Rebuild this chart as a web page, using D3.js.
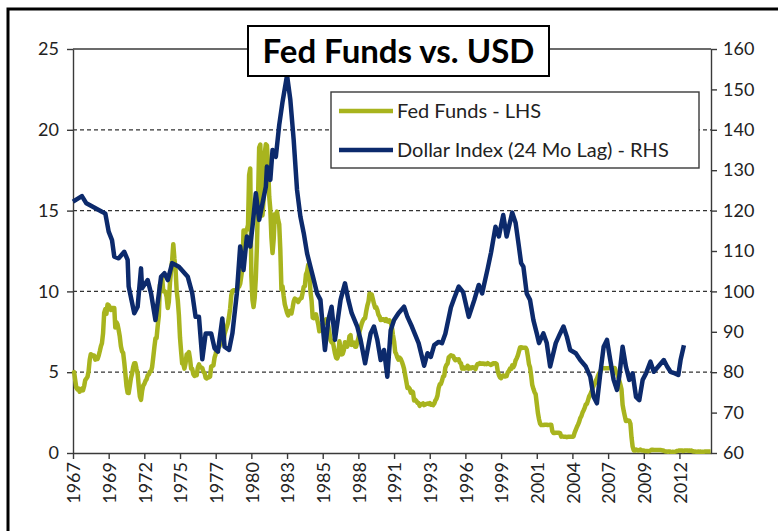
<!DOCTYPE html>
<html>
<head>
<meta charset="utf-8">
<script src="https://cdn.jsdelivr.net/npm/d3@7"></script>
<style>
  body { margin: 0; background: #fff; }
  svg { display: block; }
  text { font-family: Lato, "Open Sans", sans-serif; }
</style>
</head>
<body>
<svg id="chart" width="778" height="531"></svg>
<script>
// effective fed funds, monthly from Jan 1967 (one row per year)
const fedFunds = [
  4.94,5.00,4.53,4.05,3.94,3.98,3.79,3.90,3.99,3.88,4.13,4.51,
  4.60,4.71,5.05,5.76,6.11,6.07,6.03,6.03,5.78,5.91,5.82,6.02,
  6.30,6.61,6.79,7.41,8.67,8.90,8.61,9.19,9.15,9.00,8.85,8.97,
  8.98,8.98,7.76,8.10,7.95,7.61,7.21,6.61,6.29,6.20,5.60,4.90,
  4.14,3.72,3.71,4.16,4.63,4.91,5.31,5.56,5.55,5.20,4.91,4.14,
  3.50,3.29,3.83,4.17,4.27,4.46,4.55,4.80,4.87,5.04,5.06,5.33,
  5.94,6.58,7.09,7.12,7.84,8.49,10.40,10.50,10.78,10.01,10.03,9.95,
  9.65,8.97,9.35,10.51,11.31,11.93,12.92,12.01,11.34,10.06,9.45,8.53,
  7.13,6.24,5.54,5.49,5.22,5.55,6.10,6.14,6.24,5.82,5.22,5.20,
  4.87,4.77,4.84,4.82,5.29,5.48,5.31,5.29,5.25,5.02,4.95,4.65,
  4.61,4.68,4.69,4.73,5.35,5.39,5.42,5.90,6.14,6.47,6.51,6.56,
  6.70,6.78,6.79,6.89,7.36,7.60,7.81,8.04,8.45,8.96,9.76,10.03,
  10.07,10.06,10.09,10.01,10.24,10.29,10.47,10.94,11.43,13.77,13.18,13.78,
  13.82,14.13,17.19,17.61,10.98,9.47,9.03,9.61,10.87,12.81,15.85,18.90,
  19.08,15.93,14.70,15.72,18.52,19.10,19.04,17.82,15.87,15.08,13.31,12.37,
  13.22,14.78,14.68,14.94,14.45,14.15,12.59,10.12,10.31,9.71,9.20,8.95,
  8.68,8.51,8.77,8.80,8.63,8.98,9.37,9.56,9.45,9.48,9.34,9.47,
  9.56,9.59,9.91,10.29,10.32,11.06,11.23,11.64,11.30,9.99,9.43,8.38,
  8.35,8.50,8.58,8.27,7.97,7.53,7.88,7.90,7.92,7.99,8.05,8.27,
  8.14,7.86,7.48,6.99,6.85,6.92,6.56,6.17,5.89,5.85,6.04,6.91,
  6.43,6.10,6.13,6.37,6.85,6.73,6.58,6.73,7.22,7.29,6.69,6.77,
  6.83,6.58,6.58,6.87,7.09,7.51,7.75,8.01,8.19,8.30,8.35,8.76,
  9.12,9.36,9.85,9.84,9.81,9.53,9.24,8.99,9.02,8.84,8.55,8.45,
  8.23,8.24,8.28,8.26,8.18,8.29,8.15,8.13,8.20,8.11,7.81,7.31,
  6.91,6.25,6.12,5.91,5.78,5.90,5.82,5.66,5.45,5.21,4.81,4.43,
  4.03,4.06,3.98,3.73,3.82,3.76,3.25,3.30,3.22,3.10,3.09,2.92,
  3.02,3.03,3.07,2.96,3.00,3.04,3.06,3.03,3.09,2.99,3.02,2.96,
  3.05,3.25,3.34,3.56,4.01,4.25,4.26,4.47,4.73,4.76,5.29,5.45,
  5.53,5.92,5.98,6.05,6.01,6.00,5.85,5.74,5.80,5.76,5.80,5.60,
  5.56,5.22,5.31,5.22,5.24,5.27,5.40,5.22,5.30,5.24,5.31,5.29,
  5.25,5.19,5.39,5.51,5.50,5.56,5.52,5.54,5.54,5.50,5.52,5.50,
  5.56,5.51,5.49,5.45,5.49,5.56,5.54,5.55,5.51,5.07,4.83,4.68,
  4.63,4.76,4.81,4.74,4.74,4.76,4.99,5.07,5.22,5.20,5.42,5.30,
  5.45,5.73,5.85,6.02,6.27,6.53,6.54,6.50,6.52,6.51,6.51,6.40,
  5.98,5.49,5.31,4.80,4.21,3.97,3.77,3.65,3.07,2.49,2.09,1.82,
  1.73,1.74,1.73,1.75,1.75,1.75,1.73,1.74,1.75,1.75,1.34,1.24,
  1.24,1.26,1.25,1.26,1.26,1.22,1.01,1.03,1.01,1.01,1.00,0.98,
  1.00,1.01,1.00,1.00,1.00,1.03,1.26,1.43,1.61,1.76,1.93,2.16,
  2.28,2.50,2.63,2.79,3.00,3.04,3.26,3.50,3.62,3.78,4.00,4.16,
  4.29,4.49,4.59,4.79,4.94,4.99,5.24,5.25,5.25,5.25,5.25,5.24,
  5.25,5.26,5.26,5.25,5.25,5.25,5.26,5.02,4.94,4.76,4.49,4.24,
  3.94,2.98,2.61,2.28,1.98,2.00,2.01,2.00,1.81,0.97,0.39,0.16,
  0.15,0.22,0.18,0.15,0.18,0.21,0.16,0.16,0.15,0.12,0.12,0.12,
  0.11,0.13,0.16,0.20,0.20,0.18,0.18,0.19,0.19,0.19,0.19,0.18,
  0.17,0.16,0.14,0.10,0.09,0.09,0.07,0.10,0.08,0.07,0.08,0.07,
  0.08,0.10,0.13,0.14,0.16,0.16,0.16,0.13,0.14,0.16,0.16,0.16,
  0.14,0.15,0.14,0.15,0.11,0.09,0.09,0.08,0.08,0.09,0.08,0.09,
  0.07,0.07,0.08,0.09,0.09,0.10,0.09,0.09,0.09
];

// dollar index (24 month lag)
const dollarMonths = [
  "1967-01","1967-09","1968-01","1969-03","1969-06","1969-09","1969-12","1970-02","1970-06","1970-11",
  "1971-02","1971-03","1971-08","1971-11","1972-02","1972-03","1972-08","1972-11","1973-03","1973-08",
  "1973-11","1974-02","1974-06","1974-12","1975-08","1975-12","1976-03","1976-06","1976-09","1976-12",
  "1977-05","1977-08","1977-11","1978-03","1978-05","1978-09","1978-12","1979-04","1979-07","1979-10",
  "1980-01","1980-04","1980-06","1980-09","1980-12","1981-03","1981-06","1981-07","1981-10","1981-12",
  "1982-03","1982-06","1982-09","1983-01","1983-04","1983-07","1983-10","1984-01","1984-04","1984-07",
  "1984-10","1985-01","1985-04","1985-07","1985-08","1985-11","1986-02","1986-05","1986-08","1987-01",
  "1987-05","1987-08","1987-11","1988-04","1988-07","1988-11","1989-04","1989-07","1989-10","1990-01",
  "1990-04","1990-07","1990-10","1991-01","1991-05","1991-10","1992-01","1992-05","1992-11","1993-04",
  "1993-07","1993-10","1994-01","1994-05","1994-08","1994-11","1995-04","1995-07","1995-11","1996-03",
  "1996-08","1997-01","1997-05","1997-08","1998-01","1998-04","1998-08","1998-11","1999-03","1999-06",
  "1999-11","2000-02","2000-05","2000-07","2000-09","2000-12","2001-03","2001-06","2001-09","2001-11",
  "2002-03","2002-06","2002-09","2003-02","2003-06","2003-09","2003-12","2004-03","2004-08","2004-12",
  "2005-05","2005-09","2005-12","2006-03","2006-06","2006-09","2006-12","2007-03","2007-06","2007-09",
  "2007-11","2008-02","2008-05","2008-08","2008-11","2009-02","2009-05","2009-08","2009-11","2010-03",
  "2010-06","2010-10","2011-03","2011-06","2011-09","2012-01","2012-04","2012-06","2012-09"
];
const dollarValues = [
  122.2,123.6,121.8,119.7,119.3,114.8,112.7,108.6,108.2,109.8,
  107.8,101.2,94.6,96.2,105.7,100.8,102.8,99.5,92.9,103.6,
  104.5,102.8,107.0,106.1,103.6,99.5,93.7,93.7,83.2,89.6,
  89.6,85.9,85.1,93.3,86.3,85.5,89.6,99.5,111.1,105.3,
  113.6,111.1,116.0,124.3,117.7,121.8,125.9,130.9,127.6,135.0,
  133.3,141.2,147.0,153.5,147.4,137.5,125.1,118.5,114.4,109.4,
  106.1,102.8,99.5,97.9,94.6,85.5,92.9,96.2,88.0,97.9,
  102.0,97.9,94.6,91.3,88.0,82.2,89.6,91.3,88.0,83.0,
  85.5,78.9,90.4,92.9,94.6,96.2,93.7,91.3,87.2,81.6,
  84.7,83.8,86.7,87.5,87.2,89.5,96.0,98.3,101.2,99.8,
  93.7,97.9,101.6,99.5,105.7,109.6,116.0,113.6,118.9,113.6,
  119.5,117.0,111.1,107.0,106.1,99.5,97.9,92.9,89.6,87.2,
  89.6,87.2,81.4,87.2,89.6,91.3,88.8,85.5,84.7,83.0,
  81.4,78.9,73.9,72.3,79.7,86.3,88.0,83.0,78.1,75.6,
  78.9,86.3,81.4,78.1,79.7,73.9,73.1,78.1,79.7,82.6,
  80.1,81.4,83.0,81.4,80.1,79.7,79.3,83.0,86.7
];

const leftTicks = [0, 5, 10, 15, 20, 25];
const rightTicks = [60, 70, 80, 90, 100, 110, 120, 130, 140, 150, 160];
const gridLevels = [5, 10, 15, 20];
const labelEveryMonths = 32;
const seriesNames = ["Fed Funds - LHS", "Dollar Index (24 Mo Lag) - RHS"];
const seriesColors = ["#a8b41e", "#0c2a6c"];
const chartTitle = "Fed Funds vs. USD";

const svg = d3.select("#chart");
const plot = { left: 73, right: 711, top: 49, bottom: 453 };
const axisColor = "#3a3a3a";
const labelColor = "#222";

const parseMonth = d3.timeParse("%Y-%m");
const fedData = fedFunds.map((v, i) => ({ date: new Date(1967, i, 1), value: v }));
const dollarData = dollarMonths.map((m, i) => ({ date: parseMonth(m), value: dollarValues[i] }));

const x = d3.scaleTime()
  .domain([new Date(1967, 0, 1), new Date(2014, 8, 10)])
  .range([plot.left, plot.right]);
const yL = d3.scaleLinear().domain([0, 25]).range([plot.bottom, plot.top]);
const yR = d3.scaleLinear().domain([60, 160]).range([plot.bottom, plot.top]);

// outer frame
svg.append("path")
  .attr("d", "M8,531 V9 H778")
  .attr("fill", "none")
  .attr("stroke", "#000")
  .attr("stroke-width", 3);

// dashed gridlines
svg.append("g")
  .selectAll("line")
  .data(gridLevels)
  .join("line")
  .attr("x1", plot.left).attr("x2", plot.right)
  .attr("y1", d => yL(d)).attr("y2", d => yL(d))
  .attr("stroke", "#333")
  .attr("stroke-width", 1.2)
  .attr("stroke-dasharray", "4,3");

// top border of plot
svg.append("line")
  .attr("x1", plot.left).attr("x2", plot.right)
  .attr("y1", yL(25)).attr("y2", yL(25))
  .attr("stroke", axisColor).attr("stroke-width", 1.4);

const styleAxis = g => {
  g.select(".domain").attr("stroke", axisColor).attr("stroke-width", 1.4);
  g.selectAll(".tick line").attr("stroke", axisColor).attr("stroke-width", 1.4);
  g.selectAll("text").attr("fill", labelColor).style("font-size", "18px")
    .style("font-family", "Lato, 'Open Sans', sans-serif");
};

svg.append("g")
  .attr("transform", `translate(${plot.left},0)`)
  .call(d3.axisLeft(yL).tickValues(leftTicks).tickSize(6).tickSizeOuter(0).tickPadding(8))
  .call(styleAxis);

svg.append("g")
  .attr("transform", `translate(${plot.right},0)`)
  .call(d3.axisRight(yR).tickValues(rightTicks).tickSize(6).tickSizeOuter(0).tickPadding(6))
  .call(styleAxis);

const xTicks = d3.range(18).map(k => new Date(1967, k * labelEveryMonths, 1));
svg.append("g")
  .attr("transform", `translate(0,${plot.bottom})`)
  .call(d3.axisBottom(x).tickValues(xTicks).tickFormat(d3.timeFormat("%Y")).tickSize(6).tickSizeOuter(0))
  .call(styleAxis)
  .call(g => g.selectAll("text")
    .attr("transform", "rotate(-90)")
    .attr("text-anchor", "end")
    .attr("x", -9)
    .attr("y", 0)
    .attr("dy", "0.38em"));

// series
const lineL = d3.line().x(d => x(d.date)).y(d => yL(d.value));
const lineR = d3.line().x(d => x(d.date)).y(d => yR(d.value));

svg.append("path")
  .datum(fedData)
  .attr("d", lineL)
  .attr("fill", "none")
  .attr("stroke", seriesColors[0])
  .attr("stroke-width", 4.5)
  .attr("stroke-linejoin", "round");

svg.append("path")
  .datum(dollarData)
  .attr("d", lineR)
  .attr("fill", "none")
  .attr("stroke", seriesColors[1])
  .attr("stroke-width", 4.5)
  .attr("stroke-linejoin", "round");

// legend
const legend = svg.append("g").attr("transform", "translate(331,92)");
legend.append("rect")
  .attr("width", 368).attr("height", 76)
  .attr("fill", "#fff")
  .attr("stroke", axisColor).attr("stroke-width", 1.4);
seriesNames.forEach((name, i) => {
  const row = legend.append("g").attr("transform", `translate(0,${19 + i * 39})`);
  row.append("line")
    .attr("x1", 8).attr("x2", 62)
    .attr("stroke", seriesColors[i]).attr("stroke-width", 4.5);
  row.append("text")
    .attr("x", 66).attr("dy", "0.35em")
    .attr("fill", labelColor)
    .style("font-size", "20px")
    .text(name);
});

// title box
const title = svg.append("g");
title.append("rect")
  .attr("x", 248).attr("y", 26).attr("width", 301).attr("height", 50)
  .attr("fill", "#fff").attr("stroke", "#000").attr("stroke-width", 2);
title.append("text")
  .attr("x", 398.5).attr("y", 51).attr("dy", "0.36em")
  .attr("text-anchor", "middle")
  .attr("fill", "#000")
  .style("font-size", "33px").style("font-weight", "bold")
  .text(chartTitle);
</script>
</body>
</html>
